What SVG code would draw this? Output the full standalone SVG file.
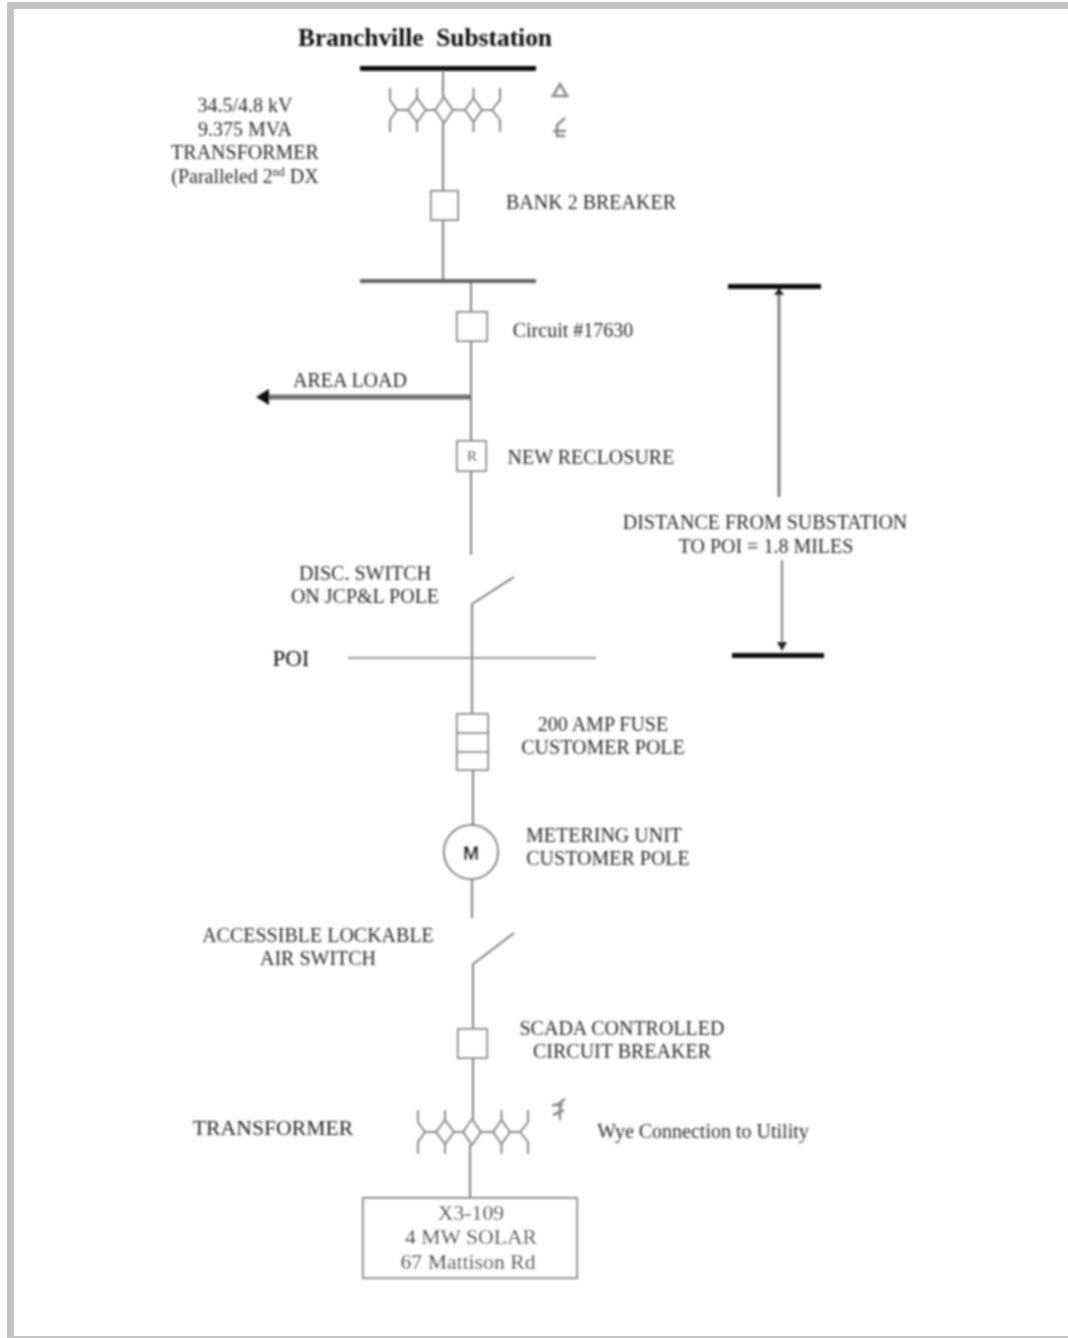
<svg xmlns="http://www.w3.org/2000/svg" width="1068" height="1338" viewBox="0 0 1068 1338">
<style>
text{font-family:"Liberation Serif","Times New Roman",serif;font-size:20px;fill:#2c2c2c;text-anchor:middle;transform:translateY(1px)}
.big{font-size:21.7px;fill:#222}
.l{fill:none;stroke:#808080;stroke-width:2}
.b{fill:#fff;stroke:#8c8c8c;stroke-width:2}
.c{fill:none;stroke:#8a8a8a;stroke-width:2}
.m{fill:none;stroke:#8a8a8a;stroke-width:2.5}
</style>
<defs>
<filter id="soft" x="0" y="0" width="1068" height="1338" filterUnits="userSpaceOnUse"><feGaussianBlur stdDeviation="0.85"/></filter>
<g id="coil"><path class="c" d="M-54 -22V-10L-47 0L-54 10V22M-47 0H-36M-36 0L-27 -12L-18 0L-27 12ZM-27 -22V-12M-27 12V22M-18 0H-9M-9 0L0 -13L9 0L0 13ZM9 0H21M21 0L29.500 -12L38 0L29.500 12ZM29.500 -22V-12M29.500 12V22M38 0H48L56 -10V-22M48 0L56 10V22"/></g>
</defs>
<rect width="1068" height="1338" fill="#fff"/>
<g id="frame" fill="#c4c4c4"><rect x="7" y="2" width="1061" height="7"/><rect x="7" y="2" width="7" height="1336"/><rect x="7" y="1336" width="1061" height="2"/></g>
<g filter="url(#soft)">
<g id="connectors">
<path class="l" d="M443 70V97M443 123V192M443 220V281M471 281V312M471 341V441M471 471V555M472 604L514 577M472 604V714M473 770V827M472 876V918M472 965L514 933M473 965V1029M473 1058V1119M470 1145V1198"/>
<path d="M348 658H596" fill="none" stroke="#999" stroke-width="2"/>
<path d="M471 397H266" fill="none" stroke="#6f6f6f" stroke-width="5"/>
<path d="M256 397L269 389V405Z" fill="#111"/>
<path d="M779 290V497" fill="none" stroke="#808080" stroke-width="3"/>
<path d="M782 560V644" fill="none" stroke="#808080" stroke-width="2"/>
<path d="M779 288l-5 7h10ZM782 651l-5 -9h10Z" fill="#222"/>
</g>
<g id="bus-top"><rect x="360" y="66" width="176" height="5" fill="#111"/></g>
<g id="bus-2"><rect x="360" y="279" width="176" height="4" fill="#666"/></g>
<g id="dist-top"><rect x="728" y="284" width="93" height="5" fill="#111"/></g>
<g id="dist-bottom"><rect x="732" y="653" width="92" height="5" fill="#111"/></g>
<g id="title"><text x="425" y="45" style="font-weight:bold;font-size:25.4px;fill:#111" xml:space="preserve">Branchville  Substation</text></g>
<g id="transformer-1"><use href="#coil" x="444" y="110"/>
<text x="245" y="111">34.5/4.8 kV</text><text x="245" y="135">9.375 MVA</text><text x="245" y="158">TRANSFORMER</text><text x="245" y="182">(Paralleled 2<tspan dy="-7" font-size="12">nd</tspan><tspan dy="7"> DX</tspan></text>
<path class="m" d="M553 96L560 84L567 96Z"/>
<path class="m" d="M565 118L557 125V136H565M553 131H566"/></g>
<g id="bank2"><rect class="b" x="431" y="191" width="27" height="29"/><text x="591" y="208">BANK 2 BREAKER</text></g>
<g id="circuit"><rect class="b" x="457" y="312" width="30" height="29"/><text x="573" y="336">Circuit #17630</text></g>
<g id="area-load"><text x="350" y="386">AREA LOAD</text></g>
<g id="recloser"><rect class="b" x="457" y="441" width="29" height="30"/><text x="472" y="460" style="font-size:15px;fill:#222">R</text><text x="591" y="463">NEW RECLOSURE</text></g>
<g id="distance"><text x="765" y="528">DISTANCE FROM SUBSTATION</text><text x="766" y="552">TO POI = 1.8 MILES</text></g>
<g id="disc"><text x="365" y="579">DISC. SWITCH</text><text x="365" y="602">ON JCP&amp;L POLE</text></g>
<g id="poi"><text x="291" y="665" style="font-size:23px;fill:#111">POI</text></g>
<g id="fuse"><rect class="b" x="457" y="714" width="31" height="56"/><path class="l" d="M457 733H488M457 752H488"/><text x="603" y="730">200 AMP FUSE</text><text x="603" y="753">CUSTOMER POLE</text></g>
<g id="meter"><circle cx="471" cy="852" r="27" fill="#fff" stroke="#777" stroke-width="2"/><text x="471" y="859" style="font:bold 20px 'Liberation Sans',sans-serif;fill:#000">M</text><text x="604" y="841">METERING UNIT</text><text x="608" y="864">CUSTOMER POLE</text></g>
<g id="air-switch"><text x="318" y="941">ACCESSIBLE LOCKABLE</text><text x="318" y="964">AIR SWITCH</text></g>
<g id="scada"><rect class="b" x="458" y="1029" width="29" height="29"/><text x="622" y="1034">SCADA CONTROLLED</text><text x="622" y="1057">CIRCUIT BREAKER</text></g>
<g id="transformer-2"><use href="#coil" x="472" y="1132"/><text x="273" y="1134" class="big">TRANSFORMER</text><path class="m" d="M565 1099L557 1105M552 1105H563M560 1102V1120M553 1115L564 1110"/><text x="703" y="1137">Wye Connection to Utility</text></g>
<g id="solar"><rect x="363" y="1198" width="214" height="80" fill="#fff" stroke="#888" stroke-width="2"/><text x="471" y="1219" class="big">X3-109</text><text x="471" y="1243" class="big">4 MW SOLAR</text><text x="468" y="1268" class="big">67 Mattison Rd</text></g>
</g>
</svg>
